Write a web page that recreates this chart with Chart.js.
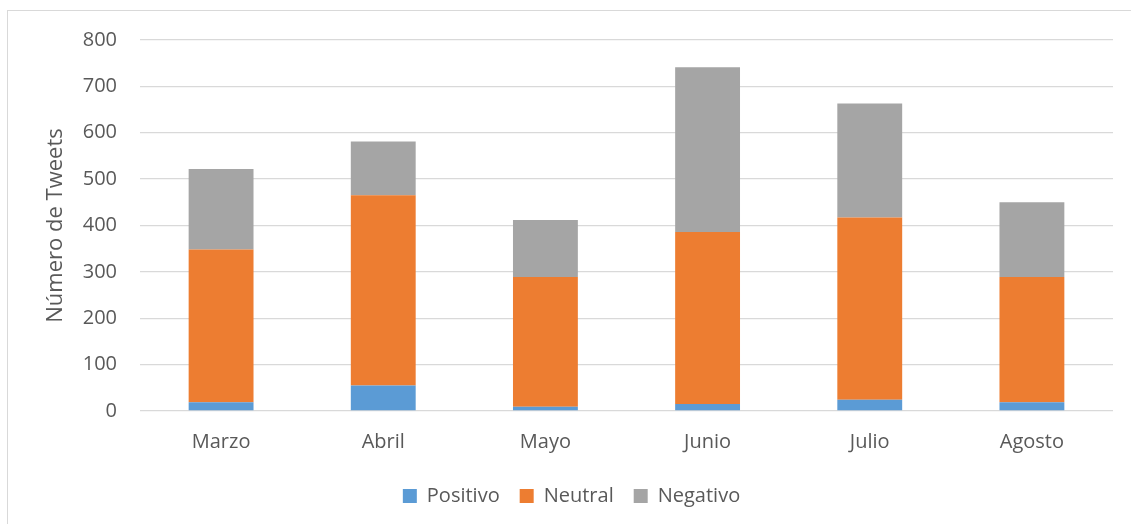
<!DOCTYPE html>
<html>
<head>
<meta charset="utf-8">
<script src="https://cdn.jsdelivr.net/npm/chart.js@4"></script>
<style>
    html, body { margin: 0; padding: 0; background: #fff; overflow: hidden; }
    #wrap { position: relative; width: 1131px; height: 524px; }
    #frame { position: absolute; left: 7px; top: 10px; width: 1200px; height: 600px; border: 1px solid #d9d9d9; pointer-events: none; }
</style>
</head>
<body>
<div id="wrap">
    <canvas id="BarChart" width="1131" height="524"></canvas>
    <div id="frame"></div>
</div>
<script>
const months = ['Marzo', 'Abril', 'Mayo', 'Junio', 'Julio', 'Agosto'];
const positivo = [19, 55, 9, 15, 24, 19];
const neutral = [329, 410, 280, 371, 393, 270];
const negativo = [174, 116, 123, 355, 246, 161];
const yTicks = [0, 100, 200, 300, 400, 500, 600, 700, 800];

document.addEventListener('DOMContentLoaded', () => {
    const ctx = document.getElementById('BarChart').getContext('2d');
    const textColor = '#595959';
    const font = 'Open Sans';

    new Chart(ctx, {
        type: 'bar',
        data: {
            labels: months,
            datasets: [
                { label: 'Positivo', data: positivo, backgroundColor: '#5B9BD5' },
                { label: 'Neutral', data: neutral, backgroundColor: '#ED7D31' },
                { label: 'Negativo', data: negativo, backgroundColor: '#A5A5A5' }
            ]
        },
        options: {
            responsive: false,
            animation: false,
            layout: {
                padding: { left: 30, right: 18, top: 40, bottom: 8 }
            },
            datasets: {
                bar: { barPercentage: 1, categoryPercentage: 0.4 }
            },
            plugins: {
                legend: {
                    position: 'bottom',
                    labels: {
                        color: textColor,
                        font: { family: font, size: 20 },
                        boxWidth: 14,
                        boxHeight: 14,
                        padding: 20
                    }
                },
                tooltip: { enabled: false }
            },
            scales: {
                x: {
                    stacked: true,
                    grid: { display: false },
                    border: { display: false },
                    ticks: { color: textColor, font: { family: font, size: 20 }, padding: 11 },
                    afterFit: (scale) => { scale.height = 55; }
                },
                y: {
                    stacked: true,
                    min: 0,
                    max: 800,
                    afterBuildTicks: (scale) => { scale.ticks = yTicks.map(v => ({ value: v })); },
                    grid: { color: '#d9d9d9', lineWidth: 1.3, drawTicks: false },
                    border: { display: false },
                    ticks: { color: textColor, font: { family: font, size: 20 }, padding: 23 },
                    title: {
                        display: true,
                        text: 'Número de Tweets',
                        color: textColor,
                        font: { family: font, size: 22 },
                        padding: { top: 13, bottom: 0 }
                    },
                    afterFit: (scale) => { scale.width = 110; }
                }
            }
        }
    });
});
</script>
</body>
</html>
